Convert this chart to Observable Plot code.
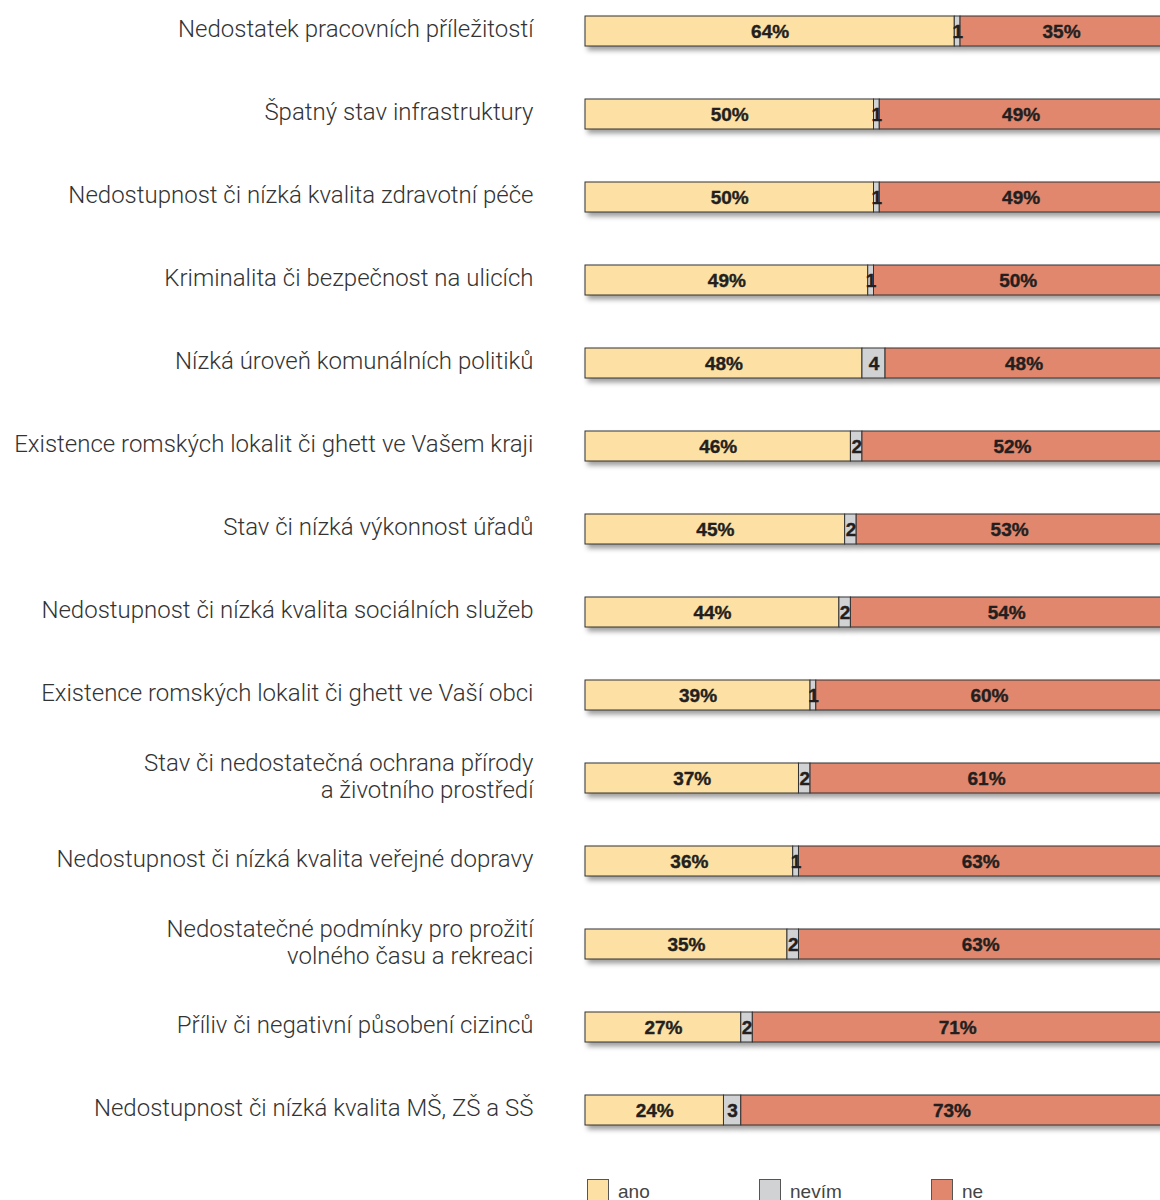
<!DOCTYPE html>
<html>
<head>
<meta charset="utf-8">
<script src="https://cdn.jsdelivr.net/npm/d3@7"></script>
<script src="https://cdn.jsdelivr.net/npm/@observablehq/plot@0.6"></script>
<style>
  html, body { margin: 0; padding: 0; background: #fff; overflow: hidden; }
  #chart svg { overflow: visible; }
  .bars { filter: drop-shadow(3px 4px 2.5px rgba(0,0,0,0.38)); }
  #legend { position: relative; height: 40px; font-family: "Liberation Sans", Arial, sans-serif; font-size: 19px; color: #444; }
  .item { position: absolute; top: 19px; display: flex; align-items: flex-start; }
  .sw { width: 20px; height: 20px; border: 1px solid #555; box-sizing: content-box; margin-right: 9px; }
  .lbl { line-height: 22px; margin-top: 2px; }
</style>
</head>
<body>
<div id="chart"></div>
<div id="legend"></div>
<script>
const categories = [
  "Nedostatek pracovních příležitostí",
  "Špatný stav infrastruktury",
  "Nedostupnost či nízká kvalita zdravotní péče",
  "Kriminalita či bezpečnost na ulicích",
  "Nízká úroveň komunálních politiků",
  "Existence romských lokalit či ghett ve Vašem kraji",
  "Stav či nízká výkonnost úřadů",
  "Nedostupnost či nízká kvalita sociálních služeb",
  "Existence romských lokalit či ghett ve Vaší obci",
  "Stav či nedostatečná ochrana přírody\na životního prostředí",
  "Nedostupnost či nízká kvalita veřejné dopravy",
  "Nedostatečné podmínky pro prožití\nvolného času a rekreaci",
  "Příliv či negativní působení cizinců",
  "Nedostupnost či nízká kvalita MŠ, ZŠ a SŠ"
];
const ano   = [64, 50, 50, 49, 48, 46, 45, 44, 39, 37, 36, 35, 27, 24];
const nevim = [ 1,  1,  1,  1,  4,  2,  2,  2,  1,  2,  1,  2,  2,  3];
const ne    = [35, 49, 49, 50, 48, 52, 53, 54, 60, 61, 63, 63, 71, 73];
const responses = ["ano", "nevím", "ne"];
const colors = ["#fde1a4", "#d1d2d4", "#e0876d"];

const data = categories.flatMap((c, i) => [
  {cat: c, resp: "ano", value: ano[i]},
  {cat: c, resp: "nevím", value: nevim[i]},
  {cat: c, resp: "ne", value: ne[i]}
]);

const chart = Plot.plot({
  width: 1160,
  height: 1160,
  marginLeft: 585,
  marginRight: 0,
  marginTop: 0,
  marginBottom: 19,
  style: {fontFamily: "Liberation Sans, Arial, sans-serif", background: "#fff"},
  x: {domain: [0, 100], range: [585, 1162], axis: null},
  y: {domain: categories, paddingInner: 0.639, paddingOuter: 0.18, axis: null},
  color: {domain: responses, range: colors},
  marks: [
    Plot.barX(data, Plot.stackX({
      x: "value", y: "cat", fill: "resp",
      stroke: "#333", strokeWidth: 1, className: "bars"
    })),
    Plot.text(data, Plot.stackX({
      x: "value", y: "cat",
      text: d => d.resp === "nevím" ? String(d.value) : d.value + "%",
      fontWeight: "bold", fontSize: 19, fill: "#231f20",
      stroke: "#231f20", strokeWidth: 0.4,
      fontFamily: "Liberation Sans, Arial, sans-serif"
    })),
    Plot.axisY({
      tickSize: 0, tickPadding: 52, fontSize: 24, fontWeight: 300,
      fontFamily: "Roboto, sans-serif", fill: "#333", dy: -3,
      lineHeight: 1.12, textAnchor: "end", label: null
    })
  ]
});
document.getElementById("chart").appendChild(chart);

const legend = document.getElementById("legend");
const legendLeft = [587, 759, 931];
responses.forEach((r, i) => {
  const item = document.createElement("div");
  item.className = "item";
  item.style.left = legendLeft[i] + "px";
  const sw = document.createElement("div");
  sw.className = "sw";
  sw.style.background = colors[i];
  const lbl = document.createElement("div");
  lbl.className = "lbl";
  lbl.textContent = r;
  item.appendChild(sw);
  item.appendChild(lbl);
  legend.appendChild(item);
});
</script>
</body>
</html>
